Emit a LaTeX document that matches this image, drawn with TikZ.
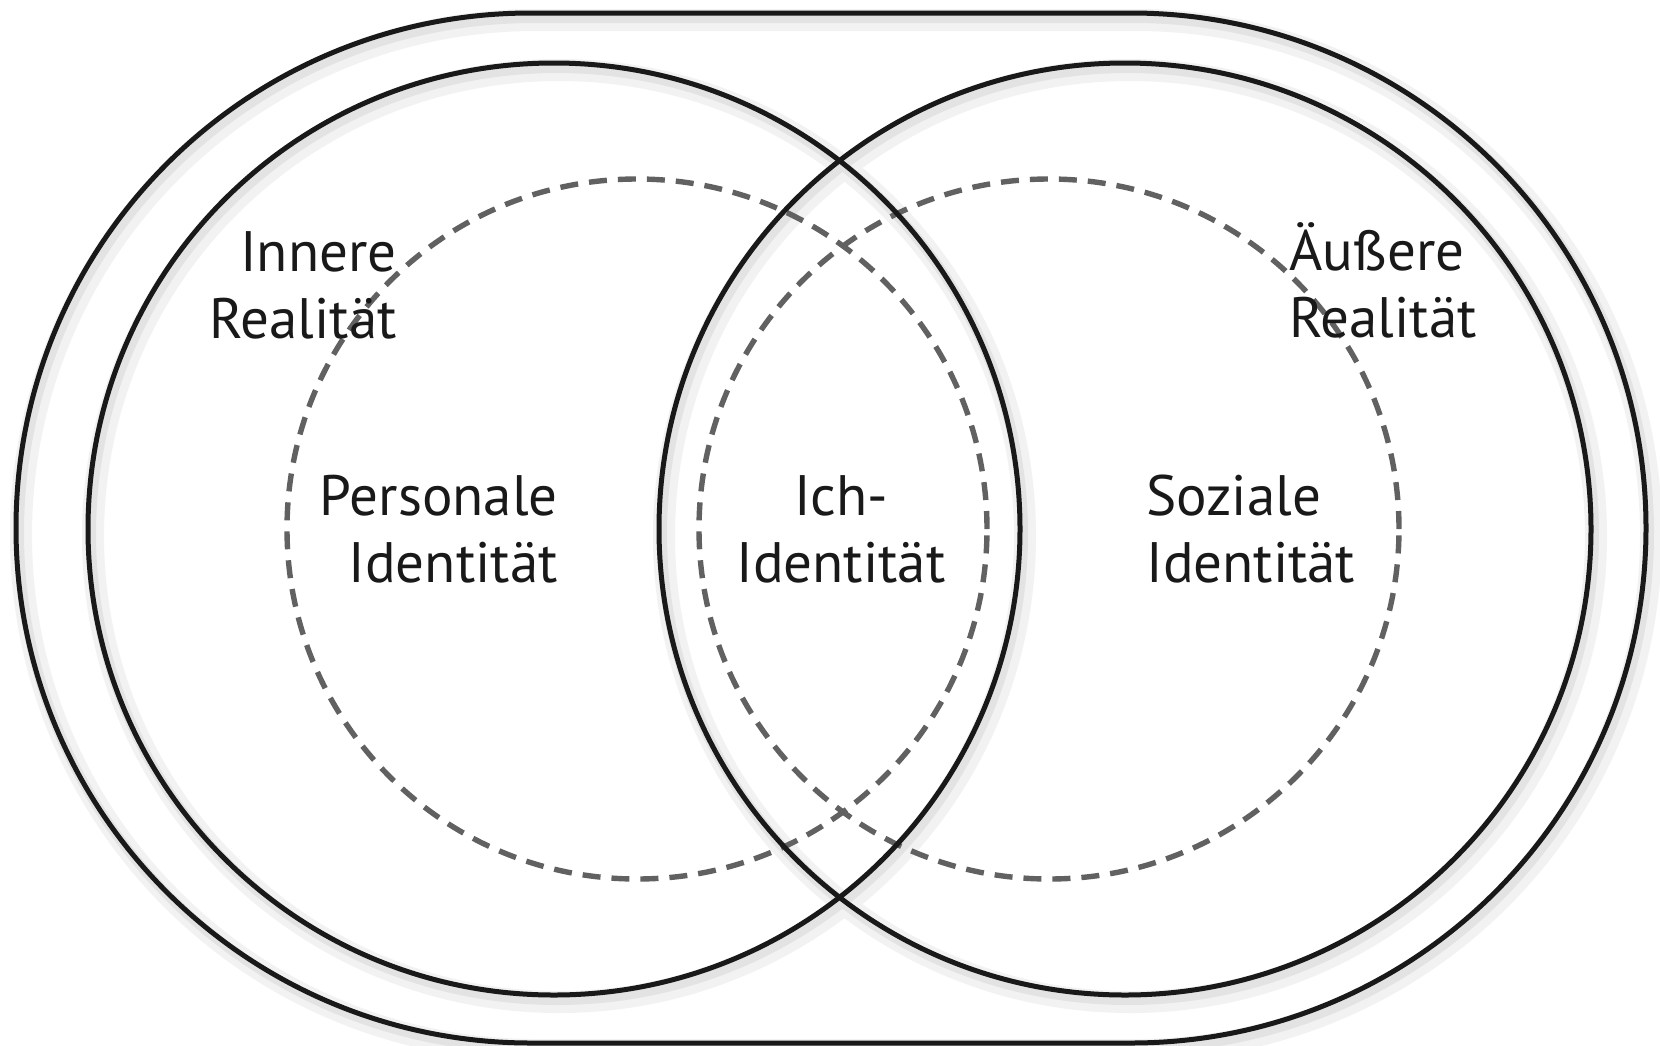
\documentclass[tikz,border=0pt]{standalone}
\usepackage{fontspec}
\setmainfont{PT Sans}
\begin{document}
\begin{tikzpicture}[x=0.5pt,y=-0.5pt,
  solidline/.style={line width=2.5pt, draw=black!90},
  shadowwide/.style={line width=11pt, draw=black!5, shift={(5,7)}},
  shadowline/.style={line width=5pt, draw=black!11, shift={(3,5)}},
  dashline/.style={line width=2.7pt, draw=black!62, dash pattern=on 9pt off 5.5pt},
  lbl/.style={font=\fontsize{28.5}{33.5}\selectfont, text=black!90, inner sep=0pt}]
\useasboundingbox[fill=white] (0,0) rectangle (1660,1045);
% shadows
\foreach \s in {shadowwide,shadowline}{
\draw[\s] (531,13) -- (1131,13) arc[start angle=90, end angle=-90, radius=257.5pt] -- (531,1043) arc[start angle=270, end angle=90, radius=257.5pt] -- cycle;
\draw[\s] (554,529) circle[radius=233pt];
\draw[\s] (1125,529) circle[radius=233pt];
}
% outer stadium
\draw[solidline] (531,13) -- (1131,13) arc[start angle=90, end angle=-90, radius=257.5pt] -- (531,1043) arc[start angle=270, end angle=90, radius=257.5pt] -- cycle;
% dashed circles
\draw[dashline] (637,529) circle[radius=175pt];
\draw[dashline] (1049,529) circle[radius=175pt];
% solid circles
\draw[solidline] (554,529) circle[radius=233pt];
\draw[solidline] (1125,529) circle[radius=233pt];
% labels
\node[lbl, align=right, anchor=east] (inner) at (397,285) {Innere\\Realität};
\node[lbl, align=left, anchor=west] (outer) at (1289,280) {Äußere\\Realität};
\node[lbl, align=right, anchor=east] (pers) at (558,529) {Personale\\Identität};
\node[lbl, align=center] (ich) at (841,529) {Ich-\\Identität};
\node[lbl, align=left, anchor=west] (soz) at (1146,529) {Soziale\\Identität};
\end{tikzpicture}
\end{document}
